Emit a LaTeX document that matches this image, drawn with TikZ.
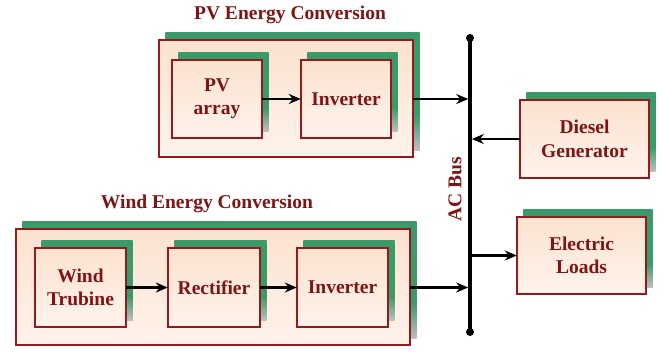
\documentclass[tikz,border=0pt]{standalone}
\usepackage{fontspec}
\setmainfont{Liberation Serif}
\usetikzlibrary{arrows.meta}
\definecolor{maroon}{RGB}{150,26,26}
\definecolor{txtred}{RGB}{128,20,20}
\definecolor{peach}{RGB}{251,226,208}
\definecolor{peachlight}{RGB}{255,243,235}
\definecolor{sgreen}{RGB}{58,154,106}
\definecolor{sgray}{RGB}{190,190,190}
\pgfdeclareverticalshading{shgreen}{100bp}{color(0bp)=(sgray); color(25bp)=(sgray); color(40bp)=(sgreen); color(100bp)=(sgreen)}
\tikzset{
  boxstyle/.style={draw=maroon, line width=2pt, top color=peach, bottom color=peachlight,
    text=txtred, align=center, inner sep=0pt,
    font=\fontsize{19.5}{23.4}\selectfont\bfseries},
  titlestyle/.style={text=txtred, font=\fontsize{19.5}{23.4}\selectfont\bfseries},
  shadowstyle/.style={shading=shgreen},
  arr/.style={line width=2.6pt, -{Stealth[length=12pt,width=10pt]}},
  busline/.style={line width=3.6pt},
}
\newcommand{\boxshadow}[1]{\shade[shadowstyle] ([shift={(6.5pt,7pt)}]#1.south west) rectangle ([shift={(6.5pt,7pt)}]#1.north east);}
\begin{document}
\begin{tikzpicture}[x=1pt,y=-1pt]
\useasboundingbox (0,0) rectangle (663,351);
% titles
\node[titlestyle] (pvtitle) at (290,15) {PV Energy Conversion};
\node[titlestyle] (wtitle) at (207,204) {Wind Energy Conversion};
% PV group
\path (286,98.5) node[minimum width=254pt, minimum height=117pt, inner sep=0pt] (pvout) {};
\boxshadow{pvout}
\node[boxstyle, minimum width=254pt, minimum height=117pt] at (pvout) {};
\path (217,99) node[minimum width=90pt, minimum height=78pt, inner sep=0pt] (pvarr) {};
\path (346,99) node[minimum width=90pt, minimum height=78pt, inner sep=0pt] (pvinv) {};
\boxshadow{pvarr}
\boxshadow{pvinv}
\node[boxstyle, minimum width=90pt, minimum height=78pt] at (pvarr) {PV\\array};
\node[boxstyle, minimum width=90pt, minimum height=78pt] at (pvinv) {Inverter};
% Wind group
\path (213,287) node[minimum width=394pt, minimum height=116pt, inner sep=0pt] (wout) {};
\boxshadow{wout}
\node[boxstyle, minimum width=394pt, minimum height=116pt] at (wout) {};
\path (80.5,287.5) node[minimum width=91pt, minimum height=79pt, inner sep=0pt] (wt) {};
\path (214,287.5) node[minimum width=92pt, minimum height=79pt, inner sep=0pt] (rect) {};
\path (342.5,287.5) node[minimum width=91pt, minimum height=79pt, inner sep=0pt] (winv) {};
\boxshadow{wt}
\boxshadow{rect}
\boxshadow{winv}
\node[boxstyle, minimum width=91pt, minimum height=79pt] at (wt) {Wind\\Trubine};
\node[boxstyle, minimum width=92pt, minimum height=79pt] at (rect) {Rectifier};
\node[boxstyle, minimum width=91pt, minimum height=79pt] at (winv) {Inverter};
% Diesel and loads
\path (584.5,139) node[minimum width=129pt, minimum height=78pt, inner sep=0pt] (dg) {};
\path (581.5,255.5) node[minimum width=129pt, minimum height=77pt, inner sep=0pt] (loads) {};
\boxshadow{dg}
\boxshadow{loads}
\node[boxstyle, minimum width=129pt, minimum height=78pt] at (dg) {Diesel\\Generator};
\node[boxstyle, minimum width=129pt, minimum height=77pt] at (loads) {Electric\\Loads};
% bus
\coordinate (bt) at (470,38);
\coordinate (bb) at (470,332);
\draw[busline] (bt) -- (bb);
\fill (bt) circle (4pt);
\fill (bb) circle (4pt);
\node[titlestyle, rotate=90] (buslabel) at (455,189) {AC Bus};
% connectors
\draw[arr] (pvarr.east) -- (pvinv.west);
\draw[arr] (wt.east) -- (rect.west);
\draw[arr] (rect.east) -- (winv.west);
\draw[arr, shorten >=1.8pt] (pvout.east |- pvinv.east) -- (bt |- pvinv.east);
\draw[arr, shorten >=1.8pt] (wout.east |- winv.east) -- (bt |- winv.east);
\draw[arr, shorten >=1.8pt] (dg.west) -- (bt |- dg.west);
\draw[arr, shorten <=1.8pt] (bt |- loads.west) -- (loads.west);
\end{tikzpicture}
\end{document}
